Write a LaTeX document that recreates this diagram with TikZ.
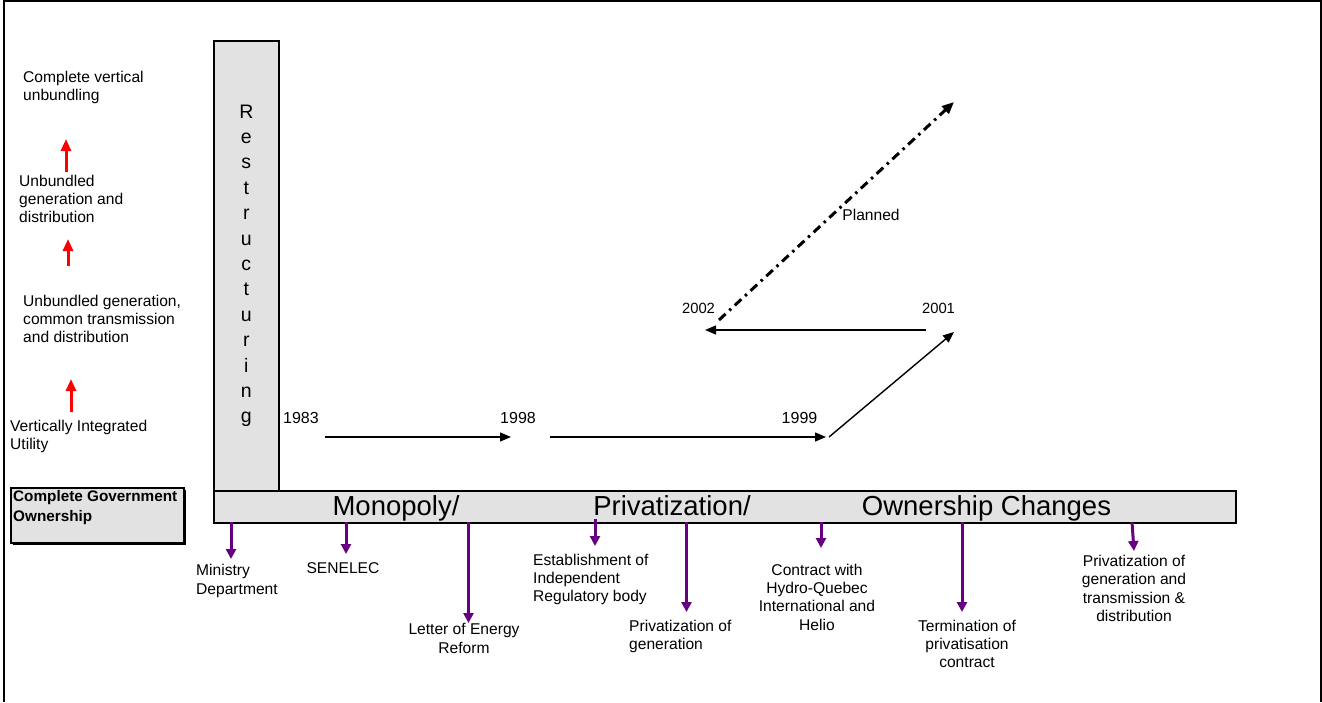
\documentclass[tikz,border=0pt]{standalone}
\usepackage{fontspec}
\setmainfont{Liberation Sans}
\usepackage{tikz}
\usetikzlibrary{positioning,arrows.meta}

\definecolor{boxgray}{RGB}{226,226,226}
\definecolor{evtpurple}{RGB}{102,0,128}

\begin{document}
\begin{tikzpicture}[x=1pt,y=1pt,yscale=-1,xscale=1,
  graybox/.style={draw, line width=1.6pt, fill=boxgray, inner sep=0pt},
  lbl/.style={font=\fontsize{15.6}{18.3}\selectfont, inner sep=0pt},
  yr/.style={font=\fontsize{16}{19}\selectfont, inner sep=0pt},
  bartxt/.style={font=\fontsize{27.5}{30}\selectfont, inner sep=0pt, anchor=base},
  tl/.style={line width=1.4pt, -{Triangle[length=11pt,width=9pt]}},
  upar/.style={red, line width=3pt, -{Triangle[length=12pt,width=10pt]}},
  evt/.style={evtpurple, line width=3pt, -{Triangle[length=10pt,width=10pt]}},
  plan/.style={line width=3pt, dash pattern=on 9pt off 5pt on 2.5pt off 5pt, -{Triangle[length=12pt,width=10pt]}}]
%set diagram size
\useasboundingbox (0,0) rectangle (1322,702);

%Shape: Frame
\draw [line width=2.5pt] (4,702) -- (4,1) -- (1321,1) -- (1321,702);

% Text Node
\node [lbl, align=left, anchor=west] (cvu) at (23,87.5) {Complete vertical\\unbundling};
% Text Node
\node [lbl, align=left, anchor=west] (ugd) at (19,199) {Unbundled\\generation and\\distribution};
% Text Node
\node [lbl, align=left, anchor=west] (ugc) at (23,319) {Unbundled generation,\\common transmission\\and distribution};
% Text Node
\node [lbl, align=left, anchor=west] (viu) at (10,436.5) {Vertically Integrated\\Utility};

%Red arrows
\coordinate (r1a) at (71,412); \coordinate (r1b) at (71,379);
\coordinate (r2a) at (68,266); \coordinate (r2b) at (68,239);
\coordinate (r3a) at (66,172); \coordinate (r3b) at (66,139);
\draw [upar] (r1a) -- (r1b);
\draw [upar] (r2a) -- (r2b);
\draw [upar] (r3a) -- (r3b);

%Shape: Rectangle with shadow
\fill (13,490) rectangle (186,545);
\node [graybox, minimum width=173pt, minimum height=55pt, anchor=north west] (gov) at (10,487) {};
% Text Node
\node [font=\bfseries\fontsize{15.3}{20}\selectfont, inner sep=0pt, align=left, anchor=north west] (govt) at (13,490) {Complete Government\\Ownership};

%Shape: Restructuring column
\node [graybox, minimum width=65pt, minimum height=450pt, anchor=north west, align=center,
  font=\fontsize{19.5}{25.4}\selectfont] (restr) at (213,40) {R\\e\\s\\t\\r\\u\\c\\t\\u\\r\\i\\n\\g};

%Shape: Bar
\node [graybox, minimum width=1022pt, minimum height=32pt, anchor=north west] (bar) at (213,490) {};
\node [bartxt] (mono) at (396,515) {Monopoly/};
\node [bartxt] (priv) at (672,515) {Privatization/};
\node [bartxt] (own) at (986.5,515) {Ownership Changes};

% Year labels
\node [yr] (y83) at (301,418) {1983};
\node [yr] (y98) at (518,418) {1998};
\node [yr] (y99) at (799.5,418) {1999};
\node [yr, font=\fontsize{14.8}{17}\selectfont] (y01) at (938.5,308) {2001};
\node [yr, font=\fontsize{14.8}{17}\selectfont] (y02) at (698.5,308) {2002};
\node [lbl] (pln) at (871,215) {Planned};

% Timeline arrows
\coordinate (t1) at (325,437); \coordinate (t2) at (511,437);
\coordinate (t3) at (550,437); \coordinate (t4) at (826,437);
\coordinate (t5) at (829,437); \coordinate (t6) at (954,332);
\coordinate (t7) at (926,330); \coordinate (t8) at (705,330);
\coordinate (t9) at (719,320); \coordinate (t10) at (954,102);
\draw [tl] (t1) -- (t2);
\draw [tl] (t3) -- (t4);
\draw [tl] (t5) -- (t6);
\draw [tl] (t7) -- (t8);
\draw [plan] (t9) -- (t10);

% Event labels
\node [lbl, align=left, anchor=west] (mdep) at (196,581) {Ministry\\Department};
\node [lbl] (sen) at (343,568) {SENELEC};
\node [lbl, align=center] (lef) at (464,638.5) {Letter of Energy\\Reform};
\node [lbl, align=left, anchor=west] (est) at (533,579.5) {Establishment of\\Independent\\Regulatory body};
\node [lbl, align=left, anchor=west] (pgen) at (629,636.5) {Privatization of\\generation};
\node [lbl, align=center] (hq) at (817,597) {Contract with\\Hydro-Quebec\\International and\\Helio};
\node [lbl, align=center] (term) at (967,644) {Termination of\\privatisation\\contract};
\node [lbl, align=center] (pgt) at (1134,588.5) {Privatization of\\generation and\\transmission \&\\distribution};

% Event arrows
\coordinate (e1) at (231,522);  \coordinate (e1b) at (231,559);
\coordinate (e2) at (346,522);  \coordinate (e2b) at (346,554);
\coordinate (e3) at (468.5,522); \coordinate (e3b) at (468.5,623);
\coordinate (e4) at (595,519);  \coordinate (e4b) at (595,546);
\coordinate (e5) at (686.5,522); \coordinate (e5b) at (686.5,612);
\coordinate (e6) at (821,522);  \coordinate (e6b) at (821,548);
\coordinate (e7) at (962,522);  \coordinate (e7b) at (962,612);
\coordinate (e8) at (1132,522); \coordinate (e8b) at (1134,551);
\foreach \s/\e in {e1/e1b,e2/e2b,e3/e3b,e4/e4b,e5/e5b,e6/e6b,e7/e7b,e8/e8b}
  \draw [evt] (\s) -- (\e);

\end{tikzpicture}
\end{document}
